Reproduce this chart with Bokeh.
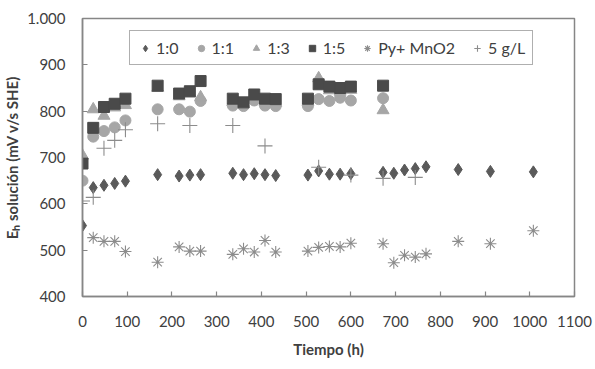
from bokeh.plotting import figure
from bokeh.models import Range1d, FixedTicker, Legend, LegendItem
from bokeh.embed import file_html
from bokeh.resources import INLINE

# Time (h)
t_all = [0, 24, 48, 72, 96, 168, 216, 240, 264, 336, 360, 384, 408, 432,
         504, 528, 552, 576, 600, 672, 696, 720, 744, 768, 840, 912, 1008]
r10 = [553, 635, 640, 644, 649, 663, 660, 662, 663, 666, 663, 665, 663, 661,
       662, 671, 664, 664, 665, 668, 666, 673, 676, 680, 674, 670, 669]

t_short = [0, 24, 48, 72, 96, 168, 216, 240, 264, 336, 360, 384, 408, 432,
           504, 528, 552, 576, 600, 672]
r11 = [650, 745, 757, 765, 780, 804, 804, 799, 822, 812, 811, 823, 812, 811,
       811, 826, 822, 829, 823, 828]
r13 = [704, 804, 790, 808, 813, 850, 832, 838, 830, 820, 815, 830, 820, 818,
       820, 871, 845, 842, 846, 802]
r15 = [687, 764, 809, 816, 827, 855, 838, 843, 865, 827, 819, 836, 827, 826,
       827, 858, 853, 850, 853, 855]

t_py = [24, 48, 72, 96, 168, 216, 240, 264, 336, 360, 384, 408, 432,
        504, 528, 552, 576, 600, 672, 696, 720, 744, 768, 840, 912, 1008]
py_mno2 = [527, 519, 519, 497, 474, 507, 498, 498, 491, 503, 496, 521, 496,
           498, 506, 508, 507, 515, 514, 473, 489, 485, 492, 519, 514, 542]

t_5g = [0, 24, 48, 72, 96, 168, 240, 336, 408, 528, 600, 672, 744]
g5 = [606, 614, 720, 737, 760, 773, 769, 769, 725, 679, 662, 655, 657]

x_ticks = [0, 100, 200, 300, 400, 500, 600, 700, 800, 900, 1000, 1100]
y_ticks = [400, 500, 600, 700, 800, 900, 1000]
y_tick_labels = {1000: "1.000"}

FONT = "Lato"
TXT = "#404040"

p = figure(width=595, height=369, output_backend="svg", toolbar_location=None,
           x_range=Range1d(0, 1100), y_range=Range1d(400, 1000),
           min_border_left=80, min_border_right=21, min_border_top=18,
           min_border_bottom=73)
p.background_fill_color = "white"
p.border_fill_color = "white"
p.outline_line_color = "#868686"
p.outline_line_width = 1.5
p.grid.visible = False

r_a = p.scatter(t_all, r10, marker="diamond", size=12, fill_color="#5a5a5a",
                line_color="#5a5a5a")
r_b = p.scatter(t_short, r11, marker="circle", size=11, fill_color="#a6a6a6",
                line_color="#a6a6a6")
r_c = p.scatter(t_short, r13, marker="triangle", size=12, fill_color="#a6a6a6",
                line_color="#a6a6a6")
r_d = p.scatter(t_short, r15, marker="square", size=11, fill_color="#4a4a4a",
                line_color="#4a4a4a")
r_e = p.scatter(t_py, py_mno2, marker="asterisk", size=12, line_color="#8c8c8c",
                line_width=1.1)
r_f = p.scatter(t_5g, g5, marker="cross", size=15, line_color="#8c8c8c",
                line_width=1.1)

for ax in (p.xaxis[0], p.yaxis[0]):
    ax.axis_line_color = "#868686"
    ax.axis_line_width = 1.5
    ax.major_tick_line_color = "#868686"
    ax.major_tick_line_width = 1.2
    ax.major_tick_in = 5
    ax.major_tick_out = 0
    ax.minor_tick_line_color = None
    ax.major_label_text_font = FONT
    ax.major_label_text_font_size = "15px"
    ax.major_label_text_color = TXT
    ax.axis_label_text_font = FONT
    ax.axis_label_text_font_size = "15px"
    ax.axis_label_text_font_style = "bold"
    ax.axis_label_text_color = TXT

p.xaxis.ticker = FixedTicker(ticks=x_ticks)
p.yaxis.ticker = FixedTicker(ticks=y_ticks)
p.yaxis.major_label_overrides = y_tick_labels
p.xaxis.major_label_standoff = 19
p.yaxis.major_label_standoff = 17
p.xaxis.axis_label = "Tiempo (h)"
p.yaxis.axis_label = "Eₕ solución (mV v/s SHE)"
p.xaxis.axis_label_standoff = 10
p.yaxis.axis_label_standoff = 3

legend = Legend(items=[
    LegendItem(label="1:0", renderers=[r_a]),
    LegendItem(label="1:1", renderers=[r_b]),
    LegendItem(label="1:3", renderers=[r_c]),
    LegendItem(label="1:5", renderers=[r_d]),
    LegendItem(label="Py+ MnO2", renderers=[r_e]),
    LegendItem(label="5 g/L", renderers=[r_f]),
], orientation="horizontal", location=(47, 231))
legend.label_text_font = FONT
legend.label_text_font_size = "16px"
legend.label_text_color = TXT
legend.border_line_color = "#606060"
legend.border_line_width = 1.2
legend.background_fill_alpha = 1
legend.glyph_width = 16
legend.glyph_height = 18
legend.label_standoff = 3
legend.spacing = 14
legend.padding = 7
legend.margin = 0
p.add_layout(legend, "center")

open("out.html", "w").write(file_html(p, INLINE))
